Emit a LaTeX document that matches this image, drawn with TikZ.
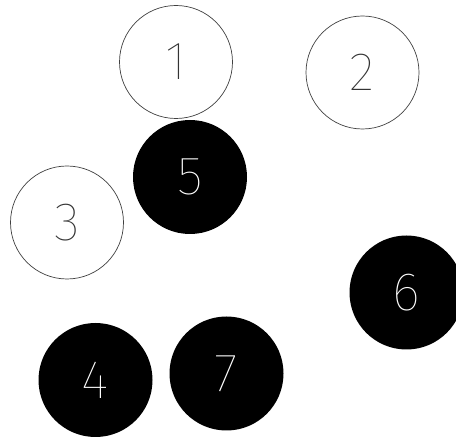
\documentclass[tikz,border=0pt]{standalone}
\usepackage{fontspec}
\newfontfamily\digitfont{Fira Sans Thin}
\tikzset{
  whitedot/.style={circle, draw=black!75, line width=0.7pt, fill=white, minimum size=113pt, inner sep=0pt, text=black!80},
  blackdot/.style={circle, fill=black, minimum size=114pt, inner sep=0pt, text=white}
}
\begin{document}
\begin{tikzpicture}[x=1pt, y=1pt, every node/.style={font=\digitfont\fontsize{54}{54}\selectfont}]
 \useasboundingbox (0,0) rectangle (456,437);
 \clip (0,0) rectangle (456,437);
 \node[whitedot] (one) at (176,375) {1};
 \node[whitedot] (two) at (362.5,364.5) {2};
 \node[whitedot] (three) at (67,214.5) {3};
 \node[blackdot] (five) at (190,260) {5};
 \node[blackdot] (six) at (406.5,144.5) {6};
 \node[blackdot] (four) at (95.5,57) {4};
 \node[blackdot] (seven) at (226.5,63.5) {7};
\end{tikzpicture}
\end{document}
